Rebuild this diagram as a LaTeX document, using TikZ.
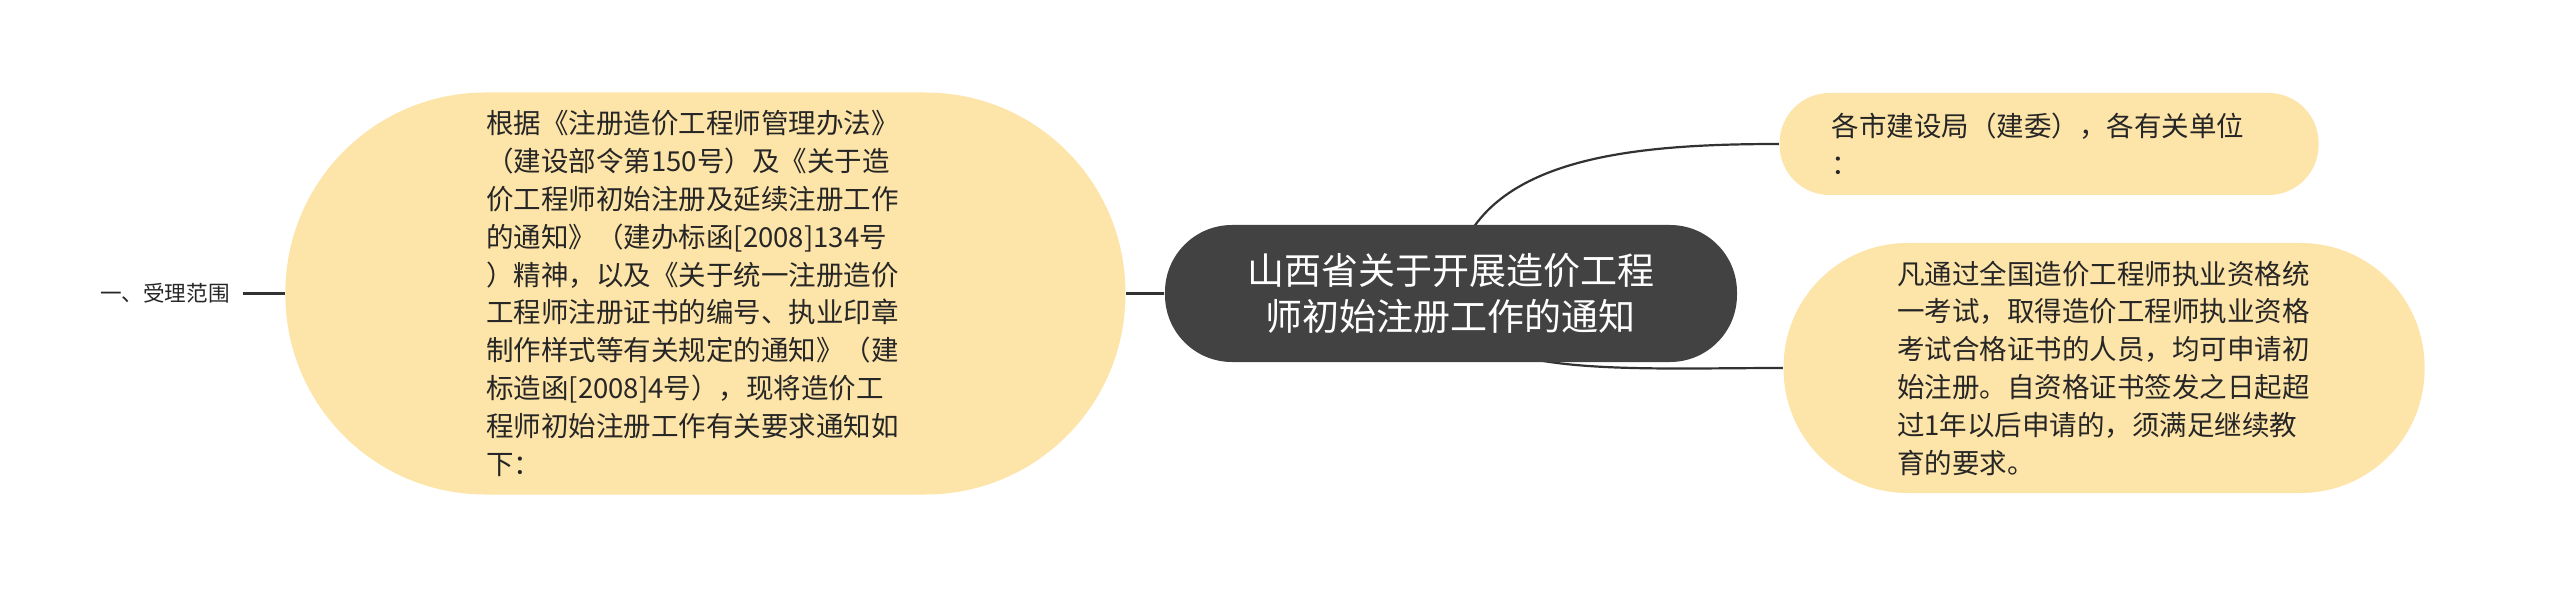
\documentclass[tikz,border=0pt]{standalone}
\usepackage{fontspec}
\newfontfamily\cjk{Noto Sans CJK SC}
\usepackage{tikz}
\usepackage{xcolor}
\usetikzlibrary{positioning,backgrounds}
\definecolor{leafbg}{RGB}{253,228,168}
\definecolor{rootbg}{RGB}{66,66,66}
\definecolor{ink}{RGB}{38,38,38}
\definecolor{wirecol}{RGB}{50,50,50}

\begin{document}
\begin{tikzpicture}[node distance={20pt}, thick,
    root/.style = {fill=rootbg, text=white, rounded corners=33.5pt, minimum width=286pt, minimum height=68.5pt, align=center, inner sep=0pt, font=\cjk\fontsize{18.5}{23}\selectfont},
    leaf/.style = {fill=leafbg, text=ink, align=left, inner sep=0pt, font=\cjk\fontsize{13.75}{18.9}\selectfont},
    wire/.style = {draw=wirecol, line width=1.1pt}]
      \useasboundingbox (-725.5pt,-147.75pt) rectangle (554.5pt,146.75pt);

      \node[root] (root) {山西省关于开展造价工程\\师初始注册工作的通知};
      \node[leaf, minimum width=420pt, minimum height=201pt, text width=219pt, rounded corners=100pt] (basis) [left=19pt of root] {根据《注册造价工程师管理办法》\\（建设部令第150号）及《关于造\\价工程师初始注册及延续注册工作\\的通知》（建办标函[2008]134号\\）精神，以及《关于统一注册造价\\工程师注册证书的编号、执业印章\\制作样式等有关规定的通知》（建\\标造函[2008]4号），现将造价工\\程师初始注册工作有关要求通知如\\下：};
      \node[text=ink, inner xsep=6pt, font=\cjk\fontsize{10.8}{13}\selectfont] (range) [left=21pt of basis] {一、受理范围};
      \node[leaf, minimum width=269.5pt, minimum height=51pt, text width=217.5pt, rounded corners=25pt] (units) [right=20.5pt of root, yshift=74.75pt] {各市建设局（建委），各有关单位\\：};
      \node[leaf, minimum width=320.5pt, minimum height=125pt, text width=207pt, rounded corners=62pt] (cond) [right=22.5pt of root, yshift=-37.25pt] {凡通过全国造价工程师执业资格统\\一考试，取得造价工程师执业资格\\考试合格证书的人员，均可申请初\\始注册。自资格证书签发之日起超\\过1年以后申请的，须满足继续教\\育的要求。};

      \begin{scope}[on background layer]
        \draw[wire] (range.east) -- (basis.west);
        \draw[wire] (basis.east) -- (root.west);
        \draw[wire] (root.center) .. controls +(5.5pt,67pt) and +(-79pt,0pt) .. (units.west);
        \draw[wire] (root.center) .. controls +(1.5pt,-43pt) and +(-81pt,0pt) .. (cond.west);
      \end{scope}
    \end{tikzpicture}
\end{document}
